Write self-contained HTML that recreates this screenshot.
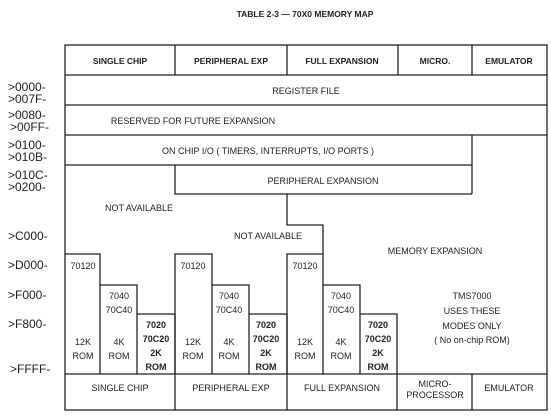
<!DOCTYPE html>
<html><head><style>
html,body{margin:0;padding:0;background:#fff;}
svg{display:block}
text{font-family:"Liberation Sans",sans-serif;fill:#222;}
</style></head><body>
<svg width="551" height="420" viewBox="0 0 551 420" xmlns="http://www.w3.org/2000/svg">
<g stroke="#222" stroke-width="1.3" fill="none">
<rect x="65" y="45" width="482" height="365"/>
<line x1="65" y1="75" x2="547" y2="75"/>
<line x1="65" y1="105" x2="547" y2="105"/>
<line x1="65" y1="135" x2="547" y2="135"/>
<line x1="65" y1="165" x2="472" y2="165"/>
<line x1="472" y1="135" x2="472" y2="194"/>
<polyline points="175,165 175,194 472,194"/>
<polyline points="287,194 287,225 323,225 323,254"/>
<line x1="175" y1="45" x2="175" y2="75"/>
<line x1="287" y1="45" x2="287" y2="75"/>
<line x1="398" y1="45" x2="398" y2="75"/>
<line x1="472" y1="45" x2="472" y2="75"/>
<polyline points="65,254 100,254 100,374"/>
<polyline points="100,285 137,285 137,374"/>
<polyline points="137,314 175,314 175,374"/>
<polyline points="175,374 175,254 212,254 212,374"/>
<polyline points="212,285 249,285 249,374"/>
<polyline points="249,314 287,314 287,374"/>
<polyline points="287,374 287,254 323,254 323,374"/>
<polyline points="323,285 360,285 360,374"/>
<polyline points="360,314 397,314 397,374"/>
<line x1="65" y1="374" x2="547" y2="374"/>
<line x1="175" y1="374" x2="175" y2="410"/>
<line x1="287" y1="374" x2="287" y2="410"/>
<line x1="397" y1="374" x2="397" y2="410"/>
<line x1="472" y1="374" x2="472" y2="410"/>
</g>
<text x="305" y="17" font-size="8.5" font-weight="bold" text-anchor="middle">TABLE 2-3 — 70X0 MEMORY MAP</text>
<g font-size="8.5" font-weight="bold" text-anchor="middle">
<text x="120" y="64">SINGLE CHIP</text>
<text x="231" y="64">PERIPHERAL EXP</text>
<text x="342" y="64">FULL EXPANSION</text>
<text x="435" y="64">MICRO.</text>
<text x="509" y="64">EMULATOR</text>
</g>
<g font-size="9" text-anchor="middle">
<text x="306" y="94">REGISTER FILE</text>
<text x="193" y="124">RESERVED FOR FUTURE EXPANSION</text>
<text x="268" y="154">ON CHIP I/O ( TIMERS, INTERRUPTS, I/O PORTS )</text>
<text x="323" y="184">PERIPHERAL EXPANSION</text>
<text x="139" y="211">NOT AVAILABLE</text>
<text x="268" y="239">NOT AVAILABLE</text>
<text x="435" y="254">MEMORY EXPANSION</text>
<text x="472" y="299">TMS7000</text>
<text x="472" y="314">USES THESE</text>
<text x="472" y="329">MODES ONLY</text>
<text x="472" y="343">( No on-chip ROM)</text>
<text x="120" y="391">SINGLE CHIP</text>
<text x="231" y="391">PERIPHERAL EXP</text>
<text x="342" y="391">FULL EXPANSION</text>
<text x="435" y="387">MICRO-</text>
<text x="435" y="398">PROCESSOR</text>
<text x="509" y="391">EMULATOR</text>
</g>
<g font-size="9" text-anchor="middle">
<g id="a">
<text x="83" y="269">70120</text>
<text x="83" y="345">12K</text>
<text x="83" y="359">ROM</text>
<text x="119" y="299">7040</text>
<text x="119" y="313">70C40</text>
<text x="119" y="345">4K</text>
<text x="119" y="359">ROM</text>
<text x="156" y="328" font-weight="bold">7020</text>
<text x="156" y="342" font-weight="bold">70C20</text>
<text x="156" y="356" font-weight="bold">2K</text>
<text x="156" y="370" font-weight="bold">ROM</text>
</g>
<use href="#a" x="110"/>
<use href="#a" x="222"/>
</g>
<g font-size="12" fill="#222">
<text x="8" y="91">&gt;0000-</text>
<text x="8" y="103">&gt;007F-</text>
<text x="8" y="119">&gt;0080-</text>
<text x="10" y="131">&gt;00FF-</text>
<text x="8" y="149">&gt;0100-</text>
<text x="8" y="161">&gt;010B-</text>
<text x="8" y="179">&gt;010C-</text>
<text x="8" y="191">&gt;0200-</text>
<text x="8" y="240">&gt;C000-</text>
<text x="8" y="269">&gt;D000-</text>
<text x="8" y="299">&gt;F000-</text>
<text x="8" y="328">&gt;F800-</text>
<text x="10" y="373">&gt;FFFF-</text>
</g>
</svg>
</body></html>
